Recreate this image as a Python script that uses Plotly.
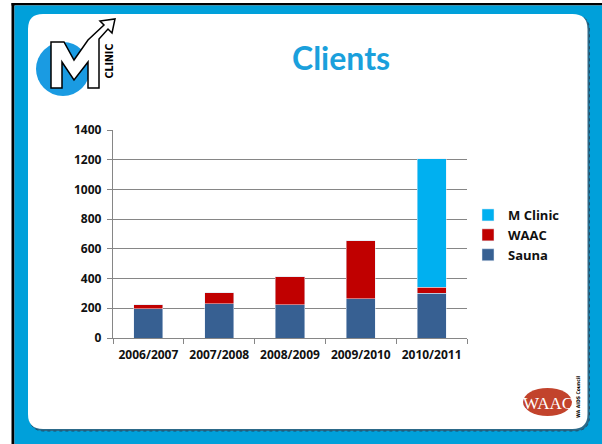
import plotly.graph_objects as go

categories = ["2006/2007", "2007/2008", "2008/2009", "2009/2010", "2010/2011"]
sauna = [198, 232, 224, 265, 300]
waac = [27, 73, 188, 390, 40]
mclinic = [0, 0, 0, 0, 865]

W, H = 602, 444
L, R, T, B = 113, 467, 130, 338


def X(px):
    return (px - L) / (R - L)


def Y(py):
    return (B - py) / (B - T)


def rrect(x0, y0, x1, y1, r):
    pts = (
        f"M {X(x0 + r)},{Y(y0)} L {X(x1 - r)},{Y(y0)} "
        f"Q {X(x1)},{Y(y0)} {X(x1)},{Y(y0 + r)} "
        f"L {X(x1)},{Y(y1 - r)} Q {X(x1)},{Y(y1)} {X(x1 - r)},{Y(y1)} "
        f"L {X(x0 + r)},{Y(y1)} Q {X(x0)},{Y(y1)} {X(x0)},{Y(y1 - r)} "
        f"L {X(x0)},{Y(y0 + r)} Q {X(x0)},{Y(y0)} {X(x0 + r)},{Y(y0)} Z"
    )
    return pts


def poly(points):
    s = "M " + " L ".join(f"{X(a)},{Y(b)}" for a, b in points) + " Z"
    return s


fig = go.Figure()
fig.add_trace(go.Bar(name="Sauna", x=categories, y=sauna, marker_color="#376092"))
fig.add_trace(go.Bar(name="WAAC", x=categories, y=waac, marker_color="#C00000"))
fig.add_trace(go.Bar(name="M Clinic", x=categories, y=mclinic, marker_color="#00B0F0"))

shapes = []
# slide frame
shapes.append(dict(type="rect", xref="paper", yref="paper", x0=X(11.5), x1=X(14.5), y0=Y(444), y1=Y(3),
                   fillcolor="black", line_width=0, layer="below"))
shapes.append(dict(type="rect", xref="paper", yref="paper", x0=X(11.5), x1=X(603), y0=Y(5.5), y1=Y(3),
                   fillcolor="black", line_width=0, layer="below"))
shapes.append(dict(type="rect", xref="paper", yref="paper", x0=X(14.5), x1=X(603), y0=Y(445), y1=Y(5.5),
                   fillcolor="#00A0DA", line_width=0, layer="below"))
shapes.append(dict(type="path", xref="paper", yref="paper", path=rrect(29.5, 15.5, 589.5, 431, 15),
                   fillcolor="#2c6a8a", line=dict(color="#1d4f6a", width=1, dash="dot"), layer="below"))
shapes.append(dict(type="path", xref="paper", yref="paper", path=rrect(28, 14, 587.5, 429, 15),
                   fillcolor="white", line_width=0, layer="below"))
# M Clinic logo
shapes.append(dict(type="circle", xref="paper", yref="paper", x0=X(36), x1=X(90), y0=Y(96), y1=Y(42),
                   fillcolor="#1A9BE2", line_width=0))
shapes.append(dict(type="path", xref="paper", yref="paper",
                   path=poly([(51, 88), (51, 42), (64, 42), (74, 60), (88, 40), (104, 25), (100, 21), (115, 19),
                              (112, 33), (108, 29), (99, 39), (99, 88), (88, 88), (88, 62), (74, 80), (62, 62),
                              (62, 88)]),
                   fillcolor="white", line=dict(color="black", width=1.5)))
# WAAC logo
shapes.append(dict(type="circle", xref="paper", yref="paper", x0=X(523), x1=X(572), y0=Y(416), y1=Y(388),
                   fillcolor="#C2432C", line_width=0))

annotations = [
    dict(text="<b>Clients</b>", x=X(341), y=Y(58), xref="paper", yref="paper", showarrow=False,
         font=dict(family="Lato", size=32, color="#1AA0DC"), xanchor="center", yanchor="middle"),
    dict(text="<b>CLINIC</b>", x=X(108.5), y=Y(61), xref="paper", yref="paper", showarrow=False, textangle=-90,
         font=dict(family="DejaVu Sans Condensed", size=10.5, color="black"), xanchor="center", yanchor="middle"),
    dict(text="WAAC", x=X(548), y=Y(403), xref="paper", yref="paper", showarrow=False,
         font=dict(family="Liberation Serif", size=17, color="white"), xanchor="center", yanchor="middle"),
    dict(text="<b>WA AIDS Council</b>", x=X(578), y=Y(397), xref="paper", yref="paper", showarrow=False,
         textangle=-90, font=dict(family="DejaVu Sans Condensed", size=5, color="black"),
         xanchor="center", yanchor="middle"),
]

axis_font = dict(family="Open Sans", size=12, color="#111111", weight="bold")
fig.update_layout(
    width=W, height=H,
    margin=dict(l=L, r=W - R, t=T, b=H - B, pad=0),
    barmode="stack", bargap=0.59,
    paper_bgcolor="white", plot_bgcolor="rgba(0,0,0,0)",
    shapes=shapes, annotations=annotations,
    showlegend=True,
    legend=dict(x=X(468), y=Y(235), xanchor="left", yanchor="middle", traceorder="reversed",
                font=dict(family="Open Sans", size=13, color="#111111", weight="bold"),
                bgcolor="rgba(0,0,0,0)", itemwidth=30, tracegroupgap=0),
    font=dict(family="Open Sans"),
)
fig.update_yaxes(range=[0, 1400], dtick=200, showgrid=True, gridcolor="#868686", gridwidth=1.3,
                 showline=True, linecolor="#868686", linewidth=1.3, ticks="outside", ticklen=5,
                 tickcolor="#868686", tickwidth=1.3, zeroline=False, tickfont=axis_font,
                 ticklabelstandoff=3)
fig.update_xaxes(showline=True, linecolor="#868686", linewidth=1.3, ticks="outside", ticklen=5,
                 tickcolor="#868686", tickwidth=1.3, tickson="boundaries", tickfont=axis_font,
                 ticklabelstandoff=5)

fig.write_html("out.html")
